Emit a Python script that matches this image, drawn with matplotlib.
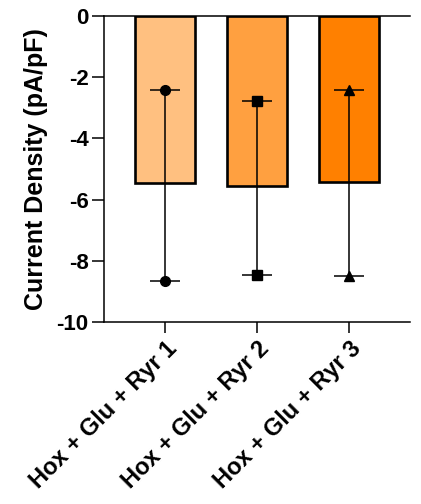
import matplotlib
matplotlib.use("Agg")
import matplotlib.pyplot as plt
import numpy as np

categories = ["Hox + Glu + Ryr 1", "Hox + Glu + Ryr 2", "Hox + Glu + Ryr 3"]
means = [-5.47, -5.56, -5.41]
err_upper = [-2.42, -2.78, -2.42]
err_lower = [-8.66, -8.47, -8.50]
colors = ["#FFC080", "#FFA040", "#FF8000"]
markers = ["o", "s", "^"]
yticks = [0, -2, -4, -6, -8, -10]

plt.rcParams['font.family'] = ['Liberation Sans', 'DejaVu Sans']
plt.rcParams['font.weight'] = 'bold'

fig = plt.figure(figsize=(4.21, 5.04), dpi=100)
ax = fig.add_axes([0.247, 0.361, 0.727, 0.607])

x = np.arange(len(categories))
ax.bar(x, means, width=0.65, color=colors, edgecolor="black", linewidth=1.9, zorder=2)

for i in range(len(x)):
    m = means[i]
    up = err_upper[i] - m
    lo = m - err_lower[i]
    ax.errorbar(x[i], m, yerr=[[lo], [up]], fmt='none', ecolor='black',
                elinewidth=1.1, capsize=10.8, capthick=1.1, zorder=3)
    ms = {"o": 7, "s": 6.5, "^": 7}[markers[i]]
    ax.plot([x[i], x[i]], [err_upper[i], err_lower[i]], linestyle='none',
            marker=markers[i], color='black', markersize=ms, zorder=4)

ax.set_xlim(-0.663, 2.663)
ax.set_ylim(-10, 0)
ax.set_yticks(yticks)
ax.set_yticklabels([str(t) for t in yticks], fontsize=16)
ax.set_xticks(x)
ax.set_xticklabels(categories, rotation=45, ha='right', rotation_mode='anchor', fontsize=17)
ax.set_ylabel("Current Density (pA/pF)", fontsize=18, fontweight='bold', labelpad=6)

for s in ['right']:
    ax.spines[s].set_visible(False)
for s in ['left', 'top', 'bottom']:
    ax.spines[s].set_linewidth(1.1)
ax.tick_params(axis='both', width=1.1)
ax.tick_params(axis='y', length=9, pad=2)
ax.tick_params(axis='x', length=8, pad=3)

fig.savefig("out.png", dpi=100)
